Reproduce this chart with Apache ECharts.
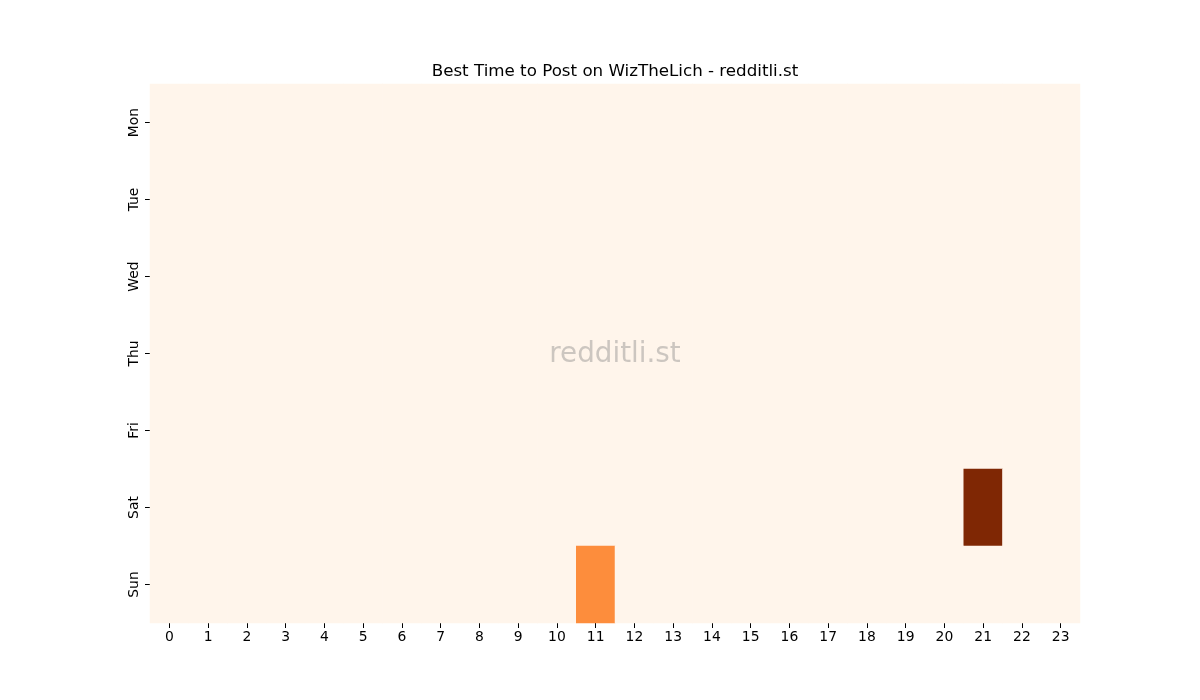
<!DOCTYPE html>
<html>
<head>
<meta charset="utf-8">
<script src="https://cdn.jsdelivr.net/npm/echarts@6/dist/echarts.min.js"></script>
<style>html,body{margin:0;padding:0;background:#fff;}#c{width:1200px;height:700px;}</style>
</head>
<body>
<div id="c"></div>
<script>
const hours = ['0','1','2','3','4','5','6','7','8','9','10','11','12','13','14','15','16','17','18','19','20','21','22','23'];
const days = ['Mon','Tue','Wed','Thu','Fri','Sat','Sun'];
const mon = [0,0,0,0,0,0,0,0,0,0,0,0,0,0,0,0,0,0,0,0,0,0,0,0];
const tue = [0,0,0,0,0,0,0,0,0,0,0,0,0,0,0,0,0,0,0,0,0,0,0,0];
const wed = [0,0,0,0,0,0,0,0,0,0,0,0,0,0,0,0,0,0,0,0,0,0,0,0];
const thu = [0,0,0,0,0,0,0,0,0,0,0,0,0,0,0,0,0,0,0,0,0,0,0,0];
const fri = [0,0,0,0,0,0,0,0,0,0,0,0,0,0,0,0,0,0,0,0,0,0,0,0];
const sat = [0,0,0,0,0,0,0,0,0,0,0,0,0,0,0,0,0,0,0,0,0,2,0,0];
const sun = [0,0,0,0,0,0,0,0,0,0,0,1,0,0,0,0,0,0,0,0,0,0,0,0];
const rows = [mon, tue, wed, thu, fri, sat, sun];

const data = [];
rows.forEach((r, d) => r.forEach((v, h) => data.push([h, d, v])));

const font = 'DejaVu Sans';
const chart = echarts.init(document.getElementById('c'), null, {renderer: 'canvas'});
chart.setOption({
  animation: false,
  backgroundColor: '#ffffff',
  grid: {left: 150, right: 120, top: 84, bottom: 77, containLabel: false},
  xAxis: {
    type: 'category', data: hours,
    axisLine: {show: false},
    axisTick: {show: true, alignWithLabel: true, length: 5, lineStyle: {color: '#000'}},
    axisLabel: {fontFamily: font, fontSize: 13.9, color: '#000', margin: 7, interval: 0},
    splitLine: {show: false}
  },
  yAxis: {
    type: 'category', data: days, inverse: true,
    axisLine: {show: false},
    axisTick: {show: true, alignWithLabel: true, length: 5, lineStyle: {color: '#000'}},
    axisLabel: {fontFamily: font, fontSize: 13.9, color: '#000', rotate: 90, margin: 9, interval: 0},
    splitLine: {show: false}
  },
  visualMap: {
    show: false, type: 'continuous', min: 0, max: 2, dimension: 2,
    inRange: {color: ['#fff5eb','#fee6ce','#fdd0a2','#fdae6b','#fd8d3c','#f16913','#d94801','#a63603','#7f2704']}
  },
  graphic: [
    {
      type: 'text', z: 100, x: 615, y: 71.5,
      style: {text: 'Best Time to Post on WizTheLich - redditli.st', fontFamily: font, fontSize: 16.7, fill: '#000', align: 'center', verticalAlign: 'middle'}
    },
    {
      type: 'text', z: 100, x: 615, y: 355,
      style: {text: 'redditli.st', fontFamily: font, fontSize: 27.8, fill: 'rgba(128,128,128,0.4)', align: 'center', verticalAlign: 'middle'}
    }
  ],
  series: [{
    type: 'heatmap', data: data,
    itemStyle: {borderWidth: 0},
    emphasis: {disabled: true}
  }]
});
</script>
</body>
</html>
